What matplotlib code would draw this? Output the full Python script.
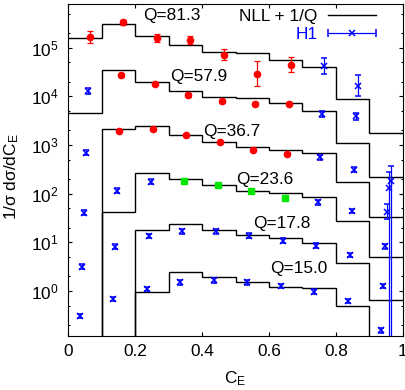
import numpy as np
import matplotlib
matplotlib.use('Agg')
import matplotlib.pyplot as plt
from matplotlib.container import ErrorbarContainer
from matplotlib.legend_handler import HandlerErrorbar
from matplotlib.lines import Line2D
from matplotlib.ticker import LogLocator, NullFormatter

plt.rcParams['font.family'] = ['Liberation Sans', 'DejaVu Sans']
plt.rcParams['mathtext.fontset'] = 'custom'
plt.rcParams['mathtext.rm'] = 'Liberation Sans'
plt.rcParams['mathtext.it'] = 'Liberation Sans:italic'
plt.rcParams['font.size'] = 12.4

# C_E bins
bin_edges = [0.0, 0.1, 0.2, 0.3, 0.4, 0.5, 0.6, 0.7, 0.8, 0.9, 1.0]
bin_centres = [0.05, 0.15, 0.25, 0.35, 0.45, 0.55, 0.65, 0.75, 0.85, 0.95]

q_labels = ['Q=81.3', 'Q=57.9', 'Q=36.7', 'Q=23.6', 'Q=17.8', 'Q=15.0']
# points of each Q set are shifted a bit so they don't overlap
x_shift = [0.015, 0.009, 0.003, -0.003, -0.009, -0.015]

# NLL + 1/Q curves (0 = empty bin)
nll_813 = [1.55e5, 3.12e5, 1.71e5, 1.11e5, 8.0e4, 7.8e4, 5.5e4, 4.0e4, 8.9e3, 1.76e3]
nll_579 = [4.5e3, 3.4e4, 2.0e4, 1.3e4, 9.5e3, 9.2e3, 7.3e3, 5.1e3, 1.1e3, 225]
nll_367 = [0, 2150, 2480, 1620, 1180, 905, 797, 681, 177, 33.8]
nll_236 = [0, 42.8, 264, 202, 152, 114, 102, 87, 27.6, 5.08]
nll_178 = [0, 0, 18.0, 23.6, 18.0, 14.2, 12.1, 9.7, 3.82, 0.65]
nll_150 = [0, 0, 0.97, 2.42, 1.97, 1.53, 1.23, 1.14, 0.49, 0]

# data points, one per bin; source R = red circles, G = green squares, H = H1
data_813 = [1.66e5, 3.3e5, 1.58e5, 1.41e5, 7.2e4, 2.9e4, 4.5e4, 4.25e4, 1.66e4, 183]
data_579 = [1.26e4, 2.7e4, 1.8e4, 1.07e4, 7.9e3, 7.1e3, 7.1e3, 4.3e3, 3.86e3, 129]
data_367 = [701, 1960, 2150, 1620, 1130, 797, 650, 563, 309, 43]
data_236 = [40.8, 116, 177, 186, 152, 116, 80.7, 66.8, 44, 8.4]
data_178 = [3.16, 8.2, 13.5, 16.9, 16.9, 13.7, 10.8, 8.55, 5.5, 1.27]
data_150 = [0.31, 0.69, 1.11, 1.51, 1.66, 1.51, 1.28, 0.97, 0.63, 0.158]

src_813 = 'RRRRRRRHHH'
src_579 = 'HRRRRRRHHH'
src_367 = 'HRRRRRRHHH'
src_236 = 'HHHGGGGHHH'
src_178 = 'HHHHHHHHHH'
src_150 = 'HHHHHHHHHH'

# error as multiplicative factor, (down, up) where asymmetric
err_813 = [1.35, 1.12, 1.22, 1.2, 1.28, 1.8, 1.45, 1.45, 1.65, (1e4, 2.0)]
err_579 = [1.15, 1.08, 1.07, 1.1, 1.08, 1.08, 1.08, 1.15, 1.2, (1e4, 2.2)]
err_367 = [1.12, 1.05, 1.05, 1.05, 1.05, 1.05, 1.05, 1.12, 1.12, 1.45]
err_236 = [1.12, 1.12, 1.12, 1.05, 1.05, 1.05, 1.05, 1.12, 1.12, 1.12]
err_178 = [1.12, 1.12, 1.12, 1.12, 1.12, 1.12, 1.12, 1.12, 1.12, 1.12]
err_150 = [1.12, 1.12, 1.12, 1.12, 1.12, 1.12, 1.12, 1.12, 1.12, 1.12]

nll_sets = [nll_813, nll_579, nll_367, nll_236, nll_178, nll_150]
data_sets = [data_813, data_579, data_367, data_236, data_178, data_150]
src_sets = [src_813, src_579, src_367, src_236, src_178, src_150]
err_sets = [err_813, err_579, err_367, err_236, err_178, err_150]

label_pos = [(0.225, 4.6e5), (0.304, 2.5e4), (0.404, 1.9e3),
             (0.503, 192), (0.553, 24.7), (0.603, 2.93)]

styles = {
    'R': dict(fmt='o', color='red', ms=4.5, capsize=2.2),
    'G': dict(fmt='s', color='#00e600', ms=4.0, capsize=2.2),
    'H': dict(fmt='x', color='blue', ms=4.0, mew=1.1, capsize=2.2),
}

fig = plt.figure(figsize=(4.05, 3.9), dpi=100)
ax = fig.add_axes([0.168, 0.1385, 0.827, 0.8515])

for nll, dat, src, err, dx, lab, pos in zip(nll_sets, data_sets, src_sets, err_sets,
                                             x_shift, q_labels, label_pos):
    vals = np.array(nll, dtype=float)
    vals = np.where(vals > 0, vals, 1e-3)
    ax.stairs(vals, bin_edges, baseline=None, color='k', lw=1.0)

    for kind in 'RGH':
        idx = [i for i, s in enumerate(src) if s == kind]
        if not idx:
            continue
        x = np.array([bin_centres[i] for i in idx]) + dx
        y = np.array([dat[i] for i in idx])
        fdn = np.array([err[i][0] if isinstance(err[i], tuple) else err[i] for i in idx])
        fup = np.array([err[i][1] if isinstance(err[i], tuple) else err[i] for i in idx])
        yerr = [y - y / fdn, y * fup - y]
        ax.errorbar(x, y, yerr=yerr, elinewidth=0.9, capthick=0.9, **styles[kind])

    ax.text(pos[0], pos[1], lab, ha='left', va='center')

ax.set_yscale('log')
ax.set_xlim(0, 1)
ax.set_ylim(0.12, 7.9e5)

ax.set_xticks([0, 0.2, 0.4, 0.6, 0.8, 1.0], ['0', '0.2', '0.4', '0.6', '0.8', '1'])
ax.yaxis.set_major_locator(LogLocator(base=10, numticks=12))
ax.yaxis.set_minor_locator(LogLocator(base=10, subs=(2.0, 5.0), numticks=12))
ax.yaxis.set_minor_formatter(NullFormatter())
ax.tick_params(which='both', direction='in', top=True, right=True)
ax.tick_params(which='major', length=2.9, width=0.8)
ax.tick_params(which='minor', length=1.6, width=0.8)
ax.tick_params(axis='x', pad=6)
ax.tick_params(axis='y', pad=7)

ax.set_xlabel('C$_\\mathrm{E}$', labelpad=7)
ax.set_ylabel('1/σ dσ/dC$_\\mathrm{E}$')
ax.yaxis.set_label_coords(-0.14, 0.48)

# legend
nll_key = Line2D([], [], color='k', lw=1.0)
h1_key = ax.errorbar([np.nan], [np.nan], xerr=[0.1], fmt='x', color='blue', ms=4.0,
                     mew=1.1, capsize=3, elinewidth=0.9)
leg = ax.legend([nll_key, h1_key], ['NLL + 1/Q', 'H1'], loc='upper right',
                bbox_to_anchor=(0.925, 0.99), frameon=False, markerfirst=False,
                handlelength=2.8, handletextpad=0.6, labelspacing=0.2,
                borderpad=0.1, borderaxespad=0,
                handler_map={ErrorbarContainer: HandlerErrorbar(xerr_size=1.4)})
leg.get_texts()[1].set_color('blue')

fig.savefig('out.png', dpi=100)
